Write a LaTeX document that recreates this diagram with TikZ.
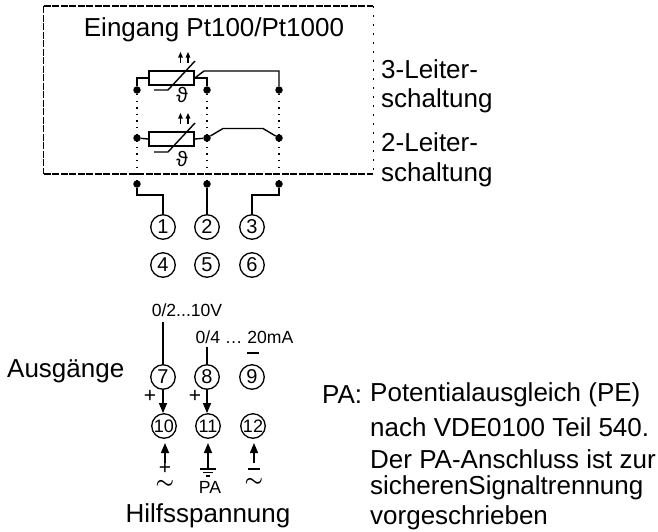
\documentclass[tikz,border=0pt]{standalone}
\usepackage{amsmath}
\usepackage{bm}
\usepackage{fontspec}
\setmainfont{Liberation Sans}
\usepackage{tikz}
\usetikzlibrary{arrows.meta}
\tikzset{
  wire/.style={line width=1.4pt},
  frameline/.style={line width=1.1pt,dash pattern=on 7pt off 1.5pt},
  dotline/.style={line width=1.4pt,dash pattern=on 1.4pt off 5.2pt},
  pin/.style={circle,fill=black,inner sep=0pt,minimum size=7.5pt},
  klemme/.style={circle,draw,line width=1.3pt,inner sep=0pt,minimum size=24.5pt,font=\fontsize{20}{20}\selectfont},
  klemmesm/.style={klemme,font=\fontsize{18}{18}\selectfont},
  widerstand/.style={draw,line width=1.6pt,inner sep=0pt,minimum width=45pt,minimum height=14pt},
  txt/.style={inner sep=0pt,font=\fontsize{26}{26}\selectfont},
  txtsm/.style={inner sep=0pt,font=\fontsize{17.6}{17.6}\selectfont},
  symb/.style={inner sep=0pt,font=\fontsize{21}{21}\selectfont},
  pfeil/.style={line width=1.4pt,-{Triangle[length=10pt,width=8pt]}},
  pfeilchen/.style={line width=1.2pt,-{Triangle[length=5.5pt,width=4.5pt]}}
}
\begin{document}
\begin{tikzpicture}[x=1pt,y=-1pt]
\useasboundingbox (0,0) rectangle (658,531);
% frame
\coordinate (obenL) at (43.5,6);
\coordinate (obenR) at (373,6);
\coordinate (untenL) at (43.5,174);
\coordinate (untenR) at (373,174);
\draw[frameline] (obenL) -- (obenR);
\draw[frameline] (untenL) -- (untenR);
\draw[frameline] (obenL) -- (untenL);
\draw[line width=0.7pt,dash pattern=on 2pt off 7pt] (obenR) -- (untenR);
\node[txt] (eingang) at (214,30) {Eingang Pt100/Pt1000};
% pins
\foreach \name/\x in {a/137,b/207,c/279}{
  \node[pin] (\name 1) at (\x,90) {};
  \node[pin] (\name 2) at (\x,138) {};
  \node[pin] (\name 3) at (\x,184) {};
  \draw[dotline] (\name 1) -- (\name 3);
}
% sensors
\node[widerstand] (rth1) at (171.5,78) {};
\node[widerstand] (rth2) at (171.5,139) {};
\draw[wire] (a1) |- (rth1.west);
\draw[wire] (b1) |- (rth1.east);
\coordinate (knick1) at (204,71);
\draw[wire] (rth1.east) -- (knick1) -| (c1);
\draw[wire] (a2) -- (rth2.west);
\draw[wire] (rth2.east) -- (b2);
\coordinate (knick2) at (223,128.5);
\coordinate (knick3) at (263,128.5);
\draw[wire] (b2) -- (knick2) -- (knick3) -- (c2);
\foreach \i/\y in {1/90,2/152}{
  \coordinate (sa\i) at (154,\y);
  \coordinate (sb\i) at (168,\y);
  \coordinate (sc\i) at (195,\y-29);
  \draw[wire] (sa\i) -- (sb\i) -- (sc\i);
}
\node[symb] (theta1) at (182,95) {ϑ};
\node[symb] (theta2) at (182,159) {ϑ};
\foreach \i/\y in {1/63,2/124}{
  \coordinate (fa\i) at (180.5,\y);
  \coordinate (fb\i) at (180.5,\y-11);
  \coordinate (fc\i) at (188,\y);
  \coordinate (fd\i) at (188,\y-11);
  \draw[pfeilchen] (fa\i) -- (fb\i);
  \draw[pfeilchen] (fc\i) -- (fd\i);
}
% terminals
\foreach \n/\x/\y in {1/163/227,2/207/227,3/252/227,4/163/265,5/207/265,6/252/265,7/163/377,8/207/377,9/252/377}
  \node[klemme] (k\n) at (\x,\y) {\n};
\foreach \n/\x in {10/164,11/208,12/253}
  \node[klemmesm] (k\n) at (\x,426) {\n};
\coordinate (x1) at (137,195);
\coordinate (x3) at (279,195);
\draw[wire] (a3) -- (x1) -| (k1.north);
\draw[wire] (b3) -- (k2.north);
\draw[wire] (c3) -- (x3) -| (k3.north);
% outputs
\node[txtsm] (spannung) at (187,310) {0/2...10V};
\node[txtsm] (strom) at (244.5,337) {0/4 … 20mA};
\coordinate (s7) at (163,322);
\coordinate (s8) at (207,347);
\draw[wire] (s7) -- (k7.north);
\draw[wire] (s8) -- (k8.north);
\draw[pfeil] (k7.south) -- (k10.north-|k7.south);
\draw[pfeil] (k8.south) -- (k11.north-|k8.south);
\node[symb] (plus7) at (150,396) {+};
\node[symb] (plus8) at (195,396) {+};
\coordinate (m9a) at (247,353);
\coordinate (m9b) at (259,353);
\draw[wire] (m9a) -- (m9b);
% supply
\foreach \n/\x in {10/165,11/208,12/254}{
  \coordinate (h\n) at (\x,463);
  \coordinate (t\n) at (\x,443);
}
\draw[pfeil] (h10) -- (t10);
\draw[pfeil] (h11) -- (t11);
\draw[pfeil] (h12) -- (t12);
\node[symb] (plus10) at (165,468) {+};
\node[symb] (ac10) at (165,484) {$\bm{\sim}$};
\coordinate (g1) at (208,469);
\draw[wire] (h11) -- (g1);
\draw[wire] (200,469) -- (216,469);
\draw[wire] (203,472.5) -- (213,472.5);
\draw[wire] (206,476) -- (210,476);
\node[txtsm] (pa) at (210,487) {PA};
\coordinate (m12a) at (248,469);
\coordinate (m12b) at (260,469);
\draw[wire] (m12a) -- (m12b);
\node[symb] (ac12) at (254,482) {$\bm{\sim}$};
% labels
\node[txt,anchor=west] (l3a) at (381,69) {3-Leiter-};
\node[txt,anchor=west] (l3b) at (381,101) {schaltung};
\node[txt,anchor=west] (l2a) at (381,142) {2-Leiter-};
\node[txt,anchor=west] (l2b) at (381,175) {schaltung};
\node[txt,anchor=west] (ausgaenge) at (7,371) {Ausgänge};
\node[txt] (hilfs) at (208,516) {Hilfsspannung};
\node[txt,anchor=west] (pahead) at (322,395) {PA:};
\foreach \t/\y in {Potentialausgleich (PE)/395,nach VDE0100 Teil 540./427,Der PA-Anschluss ist zur/459,sicherenSignaltrennung/488,vorgeschrieben/518}
  \node[txt,anchor=west] at (370,\y) {\t};
\end{tikzpicture}
\end{document}
